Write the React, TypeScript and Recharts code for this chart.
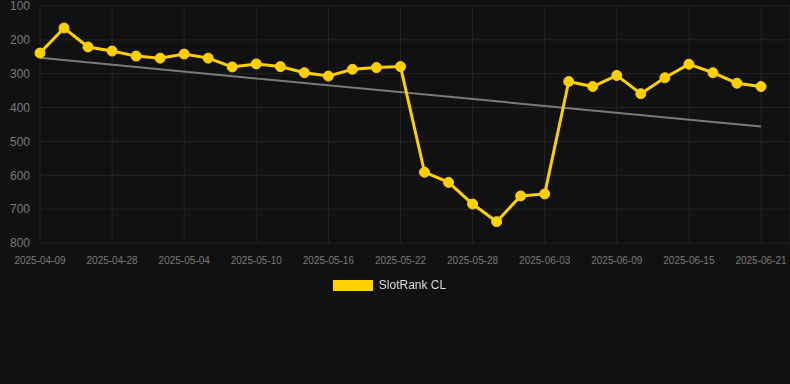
import { Line, LineChart, XAxis, YAxis, CartesianGrid, Legend } from "recharts";

const dates = [
  "2025-04-09", "2025-04-24", "2025-04-26", "2025-04-28", "2025-04-30", "2025-05-02",
  "2025-05-04", "2025-05-06", "2025-05-08", "2025-05-10", "2025-05-12", "2025-05-14",
  "2025-05-16", "2025-05-18", "2025-05-20", "2025-05-22", "2025-05-24", "2025-05-26",
  "2025-05-28", "2025-05-30", "2025-06-01", "2025-06-03", "2025-06-05", "2025-06-07",
  "2025-06-09", "2025-06-11", "2025-06-13", "2025-06-15", "2025-06-17", "2025-06-19",
  "2025-06-21",
];

const rank = [
  239, 165, 221, 233, 248, 254, 242, 254, 280, 271, 279, 297,
  307, 287, 282, 279, 591, 621, 685, 737, 661, 655, 323, 338,
  305, 359, 312, 272, 297, 328, 338,
];

// trend endpoints only, drawn straight between first and last date
const trendStart = 253;
const trendEnd = 456;

const yTicks = [100, 200, 300, 400, 500, 600, 700, 800];

const data = dates.map((d, i) => ({
  date: d,
  rank: rank[i],
  trend: i === 0 ? trendStart : i === dates.length - 1 ? trendEnd : null,
}));

const renderLegend = () => (
  <div style={{ display: "flex", justifyContent: "center", alignItems: "center", fontFamily: "Arial, sans-serif", marginLeft: -11 }}>
    <span style={{ display: "inline-block", width: 40, height: 11, background: "#FFD000", marginRight: 6 }} />
    <span style={{ color: "#dddddd", fontSize: 12 }}>SlotRank CL</span>
  </div>
);

export default function App() {
  return (
    <div style={{ position: "fixed", left: 0, top: 0, width: 790, height: 384, background: "#111111" }}>
      <LineChart
        width={790}
        height={384}
        data={data}
        margin={{ top: 6, right: 0, left: 0, bottom: 97 }}
        style={{ fontFamily: "Arial, sans-serif" }}
      >
        <CartesianGrid stroke="#242424" strokeWidth={1} />
        <XAxis
          dataKey="date"
          ticks={dates.filter((_, i) => i % 3 === 0)}
          interval={0}
          padding={{ left: 0, right: 29 }}
          tick={{ fill: "#7a7a7a", fontSize: 10 }}
          axisLine={false}
          tickLine={false}
          tickMargin={8}
          height={30}
        />
        <YAxis
          reversed
          domain={[100, 800]}
          ticks={yTicks}
          interval={0}
          width={40}
          tick={{ fill: "#7a7a7a", fontSize: 12 }}
          axisLine={false}
          tickLine={false}
          tickMargin={4}
        />
        <Legend
          verticalAlign="bottom"
          content={renderLegend}
          wrapperStyle={{ position: "absolute", top: 278, left: 0, width: 790 }}
        />
        <Line
          type="linear"
          dataKey="trend"
          stroke="#7a7a7a"
          strokeWidth={2}
          dot={false}
          connectNulls
          legendType="none"
          isAnimationActive={false}
        />
        <Line
          type="linear"
          dataKey="rank"
          name="SlotRank CL"
          stroke="#FFD000"
          strokeWidth={3}
          dot={{ r: 5, fill: "#FFD000", stroke: "#FFD000", strokeWidth: 1 }}
          isAnimationActive={false}
        />
      </LineChart>
    </div>
  );
}
